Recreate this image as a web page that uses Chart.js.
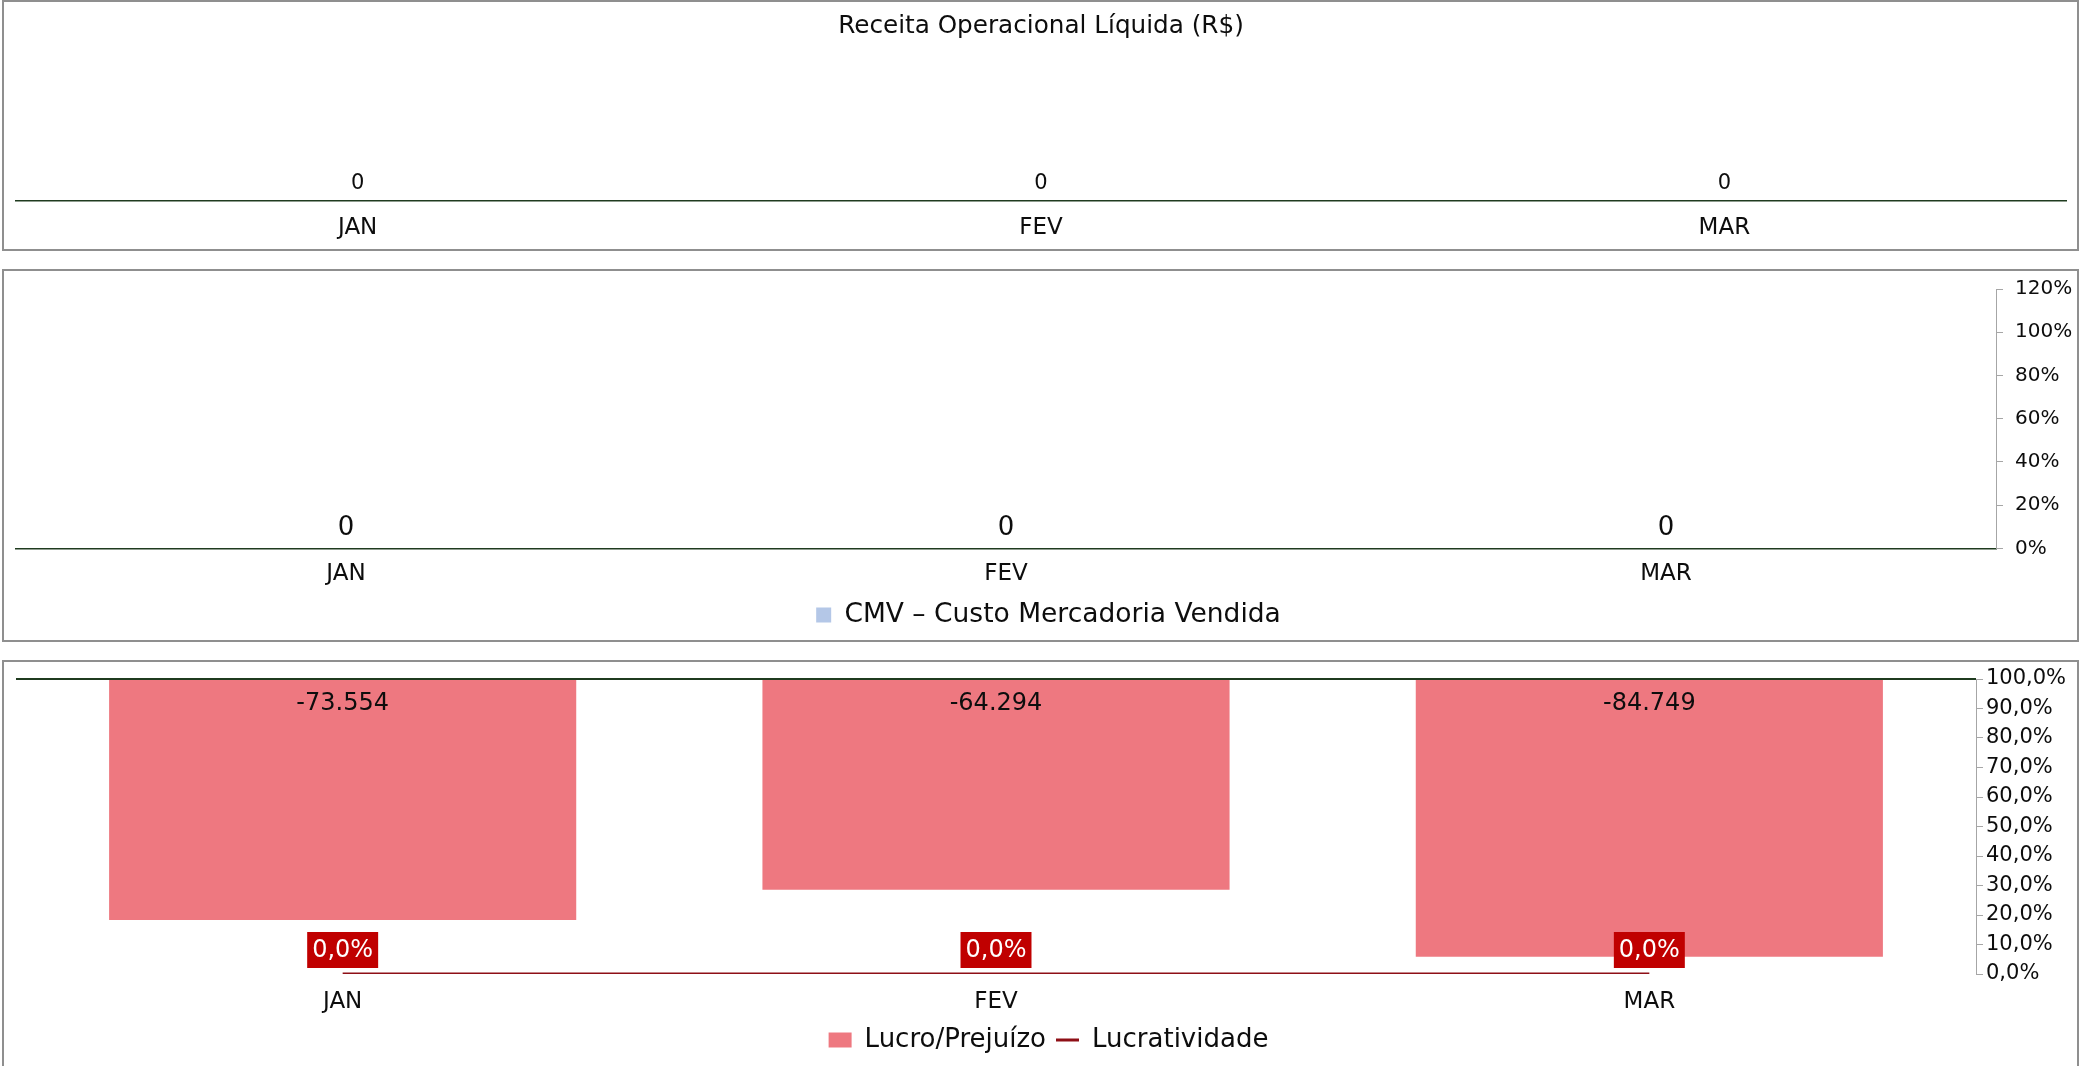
<!DOCTYPE html>
<html lang="pt-BR">
<head>
<meta charset="utf-8">
<title>Resultado mensal</title>
<script src="https://cdn.jsdelivr.net/npm/chart.js@4.4.1/dist/chart.umd.min.js"></script>
<style>
  html, body { margin: 0; padding: 0; background: #fff; overflow: hidden; }
  body { width: 2081px; height: 1066px; position: relative; }
  canvas { position: absolute; left: 0; }
  .painel { position: absolute; box-sizing: border-box; border: 2px solid #8f8f8f; pointer-events: none; }
</style>
</head>
<body>
<canvas id="graficoReceita" width="2081" height="250" style="top:0"></canvas>
<canvas id="graficoCmv" width="2081" height="390" style="top:260px"></canvas>
<canvas id="graficoLucro" width="2081" height="416" style="top:650px"></canvas>
<div class="painel" style="left:2px; top:0; width:2077px; height:251px"></div>
<div class="painel" style="left:2px; top:269px; width:2077px; height:373px"></div>
<div class="painel" style="left:2px; top:660px; width:2077px; height:420px"></div>
<script>
// Dados mensais
const meses = ["JAN", "FEV", "MAR"];
const receitaLiquida = [0, 0, 0];
const cmv = [0, 0, 0];
const lucroPrejuizo = [-73554, -64294, -84749];
const lucratividade = [0, 0, 0];

// Rótulos dos eixos percentuais (de baixo para cima)
const ticksCmv = ["0%", "20%", "40%", "60%", "80%", "100%", "120%"];
const ticksLucratividade = ["0,0%", "10,0%", "20,0%", "30,0%", "40,0%", "50,0%",
  "60,0%", "70,0%", "80,0%", "90,0%", "100,0%"];

const fonte = "'DejaVu Sans', sans-serif";
const corTexto = "#0d0d0d";
const corEixo = "#1f3b1f";
const corEixoSecundario = "#a6a6a6";

Chart.defaults.font.family = fonte;
Chart.defaults.color = corTexto;

const formatarMilhar = (v) =>
  (v < 0 ? "-" : "") + Math.abs(v).toString().replace(/\B(?=(\d{3})+(?!\d))/g, ".");
const formatarPercentual = (v) => (v * 100).toFixed(1).replace(".", ",") + "%";

// Escreve o valor de cada barra/ponto (config em dataset.rotulo)
const rotulosValores = {
  id: "rotulosValores",
  afterDatasetsDraw(chart) {
    const ctx = chart.ctx;
    chart.data.datasets.forEach((ds, i) => {
      const r = ds.rotulo;
      if (!r) return;
      const meta = chart.getDatasetMeta(i);
      meta.data.forEach((el, j) => {
        const texto = r.formato(ds.data[j]);
        const x = el.x;
        const y = (el.base !== undefined ? el.base : el.y) + r.deslocamento;
        ctx.save();
        ctx.font = r.tamanho + "px " + fonte;
        ctx.textAlign = "center";
        ctx.textBaseline = "middle";
        if (r.fundo) {
          const w = ctx.measureText(texto).width + 2 * r.margem;
          ctx.fillStyle = r.fundo;
          ctx.fillRect(x - w / 2, y - r.altura / 2, w, r.altura);
        }
        ctx.fillStyle = r.cor;
        ctx.fillText(texto, x, y + 1);
        ctx.restore();
      });
    });
  },
};

// Receita Operacional Líquida
new Chart(document.getElementById("graficoReceita"), {
  type: "bar",
  data: {
    labels: meses,
    datasets: [
      {
        label: "Receita Operacional Líquida (R$)",
        data: receitaLiquida,
        backgroundColor: "#4472c4",
        rotulo: { tamanho: 21, cor: corTexto, deslocamento: -18, formato: formatarMilhar },
      },
    ],
  },
  options: {
    responsive: false,
    animation: false,
    devicePixelRatio: 1,
    layout: { padding: { left: 16, right: 15, top: 0, bottom: 0 } },
    plugins: {
      legend: { display: false },
      tooltip: { enabled: false },
      title: {
        display: true,
        text: "Receita Operacional Líquida (R$)",
        color: corTexto,
        font: { size: 24.7, weight: "normal" },
        padding: { top: 11.5, bottom: 10 },
      },
    },
    scales: {
      x: {
        grid: { display: false, drawTicks: false },
        border: { color: corEixo, width: 1.5 },
        ticks: { padding: 13.2, font: { size: 23 }, color: corTexto },
        afterFit: (s) => { s.height = 49; },
      },
      y: { display: false, min: 0, max: 1 },
    },
  },
  plugins: [rotulosValores],
});

// CMV – Custo Mercadoria Vendida
new Chart(document.getElementById("graficoCmv"), {
  type: "bar",
  data: {
    labels: meses,
    datasets: [
      {
        label: "CMV – Custo Mercadoria Vendida",
        data: cmv,
        backgroundColor: "#b4c7e7",
        rotulo: { tamanho: 26, cor: corTexto, deslocamento: -21, formato: formatarMilhar },
      },
    ],
  },
  options: {
    responsive: false,
    animation: false,
    devicePixelRatio: 1,
    layout: { padding: { left: 16, right: 0, top: 29, bottom: 11.7 } },
    plugins: {
      legend: {
        position: "bottom",
        labels: { boxWidth: 15, boxHeight: 15, padding: 10, font: { size: 26.5 }, color: corTexto },
      },
      tooltip: { enabled: false },
    },
    scales: {
      x: {
        grid: { display: false, drawTicks: false },
        border: { color: corEixo, width: 1.5 },
        ticks: { padding: 12.2, font: { size: 23 }, color: corTexto },
        afterFit: (s) => { s.height = 43.5; },
      },
      y: { display: false, min: 0, max: 1 },
      y1: {
        position: "right",
        min: 0,
        max: 1.2,
        ticks: {
          stepSize: 0.2,
          padding: 12,
          font: { size: 20 },
          color: corTexto,
          callback: (v, i) => ticksCmv[i],
        },
        grid: { drawOnChartArea: false, color: corEixoSecundario, tickLength: 7 },
        border: { color: corEixoSecundario, width: 1 },
        afterFit: (s) => { s.width = 85; },
      },
    },
  },
  plugins: [rotulosValores],
});

// Lucro/Prejuízo e Lucratividade
new Chart(document.getElementById("graficoLucro"), {
  type: "bar",
  data: {
    labels: meses,
    datasets: [
      {
        label: "Lucro/Prejuízo",
        data: lucroPrejuizo,
        backgroundColor: "#ee7880",
        pointStyle: "rect",
        categoryPercentage: 1,
        barPercentage: 0.715,
        rotulo: { tamanho: 24, cor: corTexto, deslocamento: 23, formato: formatarMilhar },
      },
      {
        type: "line",
        label: "Lucratividade",
        data: lucratividade,
        yAxisID: "y1",
        borderColor: "#8e0f16",
        backgroundColor: "#8e0f16",
        borderWidth: 3,
        pointRadius: 0,
        pointStyle: "line",
        rotulo: {
          tamanho: 24,
          cor: "#ffffff",
          fundo: "#c00000",
          margem: 5,
          altura: 36,
          deslocamento: -24,
          formato: formatarPercentual,
        },
      },
    ],
  },
  options: {
    responsive: false,
    animation: false,
    devicePixelRatio: 1,
    layout: { padding: { left: 16, right: 0, top: 29, bottom: 3 } },
    plugins: {
      legend: {
        position: "bottom",
        labels: {
          usePointStyle: true,
          pointStyleWidth: 23,
          boxHeight: 15,
          padding: 10,
          font: { size: 26 },
          color: corTexto,
        },
      },
      tooltip: { enabled: false },
    },
    scales: {
      x: {
        grid: { display: false, drawTicks: false },
        border: { display: false },
        ticks: { padding: 14.2, font: { size: 23 }, color: corTexto },
        afterFit: (s) => { s.height = 43; },
      },
      y: {
        min: -90000,
        max: 0,
        ticks: { display: false, stepSize: 10000 },
        grid: {
          drawTicks: false,
          lineWidth: 2,
          color: (c) => (c.tick && c.tick.value === 0 ? corEixo : "rgba(0,0,0,0)"),
        },
        border: { display: false },
      },
      y1: {
        position: "right",
        min: 0,
        max: 1,
        ticks: {
          stepSize: 0.1,
          padding: 3,
          font: { size: 21 },
          color: corTexto,
          callback: (v, i) => ticksLucratividade[i],
        },
        grid: { drawOnChartArea: false, color: corEixoSecundario, tickLength: 7 },
        border: { color: corEixoSecundario, width: 1 },
        afterFit: (s) => { s.width = 105; },
      },
    },
  },
  plugins: [rotulosValores],
});
</script>
</body>
</html>
